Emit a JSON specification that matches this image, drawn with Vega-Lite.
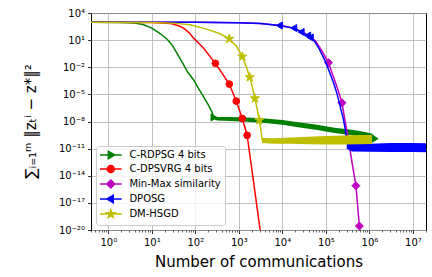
{
  "$schema": "https://vega.github.io/schema/vega-lite/v6.json",
  "width": 335,
  "height": 217,
  "autosize": {"type": "none"},
  "padding": {"left": 91, "top": 13, "right": 6, "bottom": 47},
  "background": "white",
  "config": {
    "font": "DejaVu Sans",
    "view": {"stroke": "black", "strokeWidth": 1}
  },
  "datasets": {
    "lines": [
      {"s": "C-RDPSG 4 bits", "x": 0.4, "y": 933}, {"s": "C-RDPSG 4 bits", "x": 2, "y": 912}, {"s": "C-RDPSG 4 bits", "x": 3.98, "y": 759}, {"s": "C-RDPSG 4 bits", "x": 6.31, "y": 525}, {"s": "C-RDPSG 4 bits", "x": 10, "y": 214}, {"s": "C-RDPSG 4 bits", "x": 15.85, "y": 50.1}, {"s": "C-RDPSG 4 bits", "x": 22.4, "y": 12.6}, {"s": "C-RDPSG 4 bits", "x": 28.8, "y": 3.16}, {"s": "C-RDPSG 4 bits", "x": 36.3, "y": 0.501}, {"s": "C-RDPSG 4 bits", "x": 49, "y": 0.0417}, {"s": "C-RDPSG 4 bits", "x": 66.1, "y": 0.00316}, {"s": "C-RDPSG 4 bits", "x": 91.2, "y": 3.89e-4}, {"s": "C-RDPSG 4 bits", "x": 120, "y": 3.98e-5}, {"s": "C-RDPSG 4 bits", "x": 155, "y": 5.37e-6}, {"s": "C-RDPSG 4 bits", "x": 200, "y": 6.31e-7}, {"s": "C-RDPSG 4 bits", "x": 240, "y": 1.17e-7}, {"s": "C-RDPSG 4 bits", "x": 263, "y": 3.16e-8}, {"s": "C-RDPSG 4 bits", "x": 269, "y": 2.82e-8},
      {"s": "C-DPSVRG 4 bits", "x": 0.4, "y": 933}, {"s": "C-DPSVRG 4 bits", "x": 10, "y": 912}, {"s": "C-DPSVRG 4 bits", "x": 26.3, "y": 708}, {"s": "C-DPSVRG 4 bits", "x": 39.8, "y": 417}, {"s": "C-DPSVRG 4 bits", "x": 53.7, "y": 214}, {"s": "C-DPSVRG 4 bits", "x": 72.4, "y": 63.1}, {"s": "C-DPSVRG 4 bits", "x": 91.2, "y": 16.6}, {"s": "C-DPSVRG 4 bits", "x": 120, "y": 4.47}, {"s": "C-DPSVRG 4 bits", "x": 155, "y": 1.29}, {"s": "C-DPSVRG 4 bits", "x": 219, "y": 0.151}, {"s": "C-DPSVRG 4 bits", "x": 288, "y": 0.0275}, {"s": "C-DPSVRG 4 bits", "x": 417, "y": 0.002}, {"s": "C-DPSVRG 4 bits", "x": 603, "y": 1.38e-4}, {"s": "C-DPSVRG 4 bits", "x": 871, "y": 1.82e-6}, {"s": "C-DPSVRG 4 bits", "x": 1202, "y": 2.14e-8}, {"s": "C-DPSVRG 4 bits", "x": 1549, "y": 3.02e-10}, {"s": "C-DPSVRG 4 bits", "x": 3090, "y": 1e-20},
      {"s": "Min-Max similarity", "x": 0.4, "y": 955}, {"s": "Min-Max similarity", "x": 100, "y": 933}, {"s": "Min-Max similarity", "x": 1000, "y": 851}, {"s": "Min-Max similarity", "x": 3162, "y": 692}, {"s": "Min-Max similarity", "x": 8913, "y": 417}, {"s": "Min-Max similarity", "x": 19055, "y": 214}, {"s": "Min-Max similarity", "x": 28840, "y": 79.4}, {"s": "Min-Max similarity", "x": 41687, "y": 28.2}, {"s": "Min-Max similarity", "x": 57544, "y": 7.94}, {"s": "Min-Max similarity", "x": 79433, "y": 0.794}, {"s": "Min-Max similarity", "x": 114815, "y": 0.0324}, {"s": "Min-Max similarity", "x": 138038, "y": 0.00251}, {"s": "Min-Max similarity", "x": 165959, "y": 2e-4}, {"s": "Min-Max similarity", "x": 199526, "y": 1.41e-5}, {"s": "Min-Max similarity", "x": 234423, "y": 1.17e-6}, {"s": "Min-Max similarity", "x": 281838, "y": 7.08e-9}, {"s": "Min-Max similarity", "x": 331131, "y": 8.32e-11}, {"s": "Min-Max similarity", "x": 398107, "y": 3.16e-13}, {"s": "Min-Max similarity", "x": 489779, "y": 7.94e-16}, {"s": "Min-Max similarity", "x": 588844, "y": 2.75e-20}, {"s": "Min-Max similarity", "x": 602560, "y": 1e-20},
      {"s": "DPOSG", "x": 0.4, "y": 955}, {"s": "DPOSG", "x": 100, "y": 933}, {"s": "DPOSG", "x": 1000, "y": 851}, {"s": "DPOSG", "x": 3162, "y": 692}, {"s": "DPOSG", "x": 8511, "y": 417}, {"s": "DPOSG", "x": 18197, "y": 214}, {"s": "DPOSG", "x": 26915, "y": 79.4}, {"s": "DPOSG", "x": 38019, "y": 31.6}, {"s": "DPOSG", "x": 52481, "y": 10}, {"s": "DPOSG", "x": 70795, "y": 1}, {"s": "DPOSG", "x": 97724, "y": 0.0417}, {"s": "DPOSG", "x": 123027, "y": 0.00251}, {"s": "DPOSG", "x": 151356, "y": 1.66e-4}, {"s": "DPOSG", "x": 181970, "y": 1e-5}, {"s": "DPOSG", "x": 213796, "y": 4.17e-7}, {"s": "DPOSG", "x": 251189, "y": 2e-8}, {"s": "DPOSG", "x": 281838, "y": 1.07e-9}, {"s": "DPOSG", "x": 301995, "y": 3.98e-11},
      {"s": "DM-HSGD", "x": 0.4, "y": 933}, {"s": "DM-HSGD", "x": 10, "y": 891}, {"s": "DM-HSGD", "x": 31.6, "y": 759}, {"s": "DM-HSGD", "x": 75.9, "y": 501}, {"s": "DM-HSGD", "x": 182, "y": 166}, {"s": "DM-HSGD", "x": 372, "y": 50.1}, {"s": "DM-HSGD", "x": 603, "y": 13.8}, {"s": "DM-HSGD", "x": 891, "y": 1.95}, {"s": "DM-HSGD", "x": 1202, "y": 0.151}, {"s": "DM-HSGD", "x": 1479, "y": 0.01175}, {"s": "DM-HSGD", "x": 1778, "y": 7.76e-4}, {"s": "DM-HSGD", "x": 2042, "y": 6.31e-5}, {"s": "DM-HSGD", "x": 2344, "y": 3.63e-6}, {"s": "DM-HSGD", "x": 2630, "y": 2.51e-7}, {"s": "DM-HSGD", "x": 2951, "y": 1.38e-8}, {"s": "DM-HSGD", "x": 3236, "y": 1e-9}, {"s": "DM-HSGD", "x": 3428, "y": 1e-10}
    ],
    "bands": [
      {"s": "C-RDPSG 4 bits", "x": 269, "y": 1.78e-8, "y2": 3.55e-8}, {"s": "C-RDPSG 4 bits", "x": 316, "y": 1.26e-8, "y2": 3.16e-8}, {"s": "C-RDPSG 4 bits", "x": 631, "y": 1.15e-8, "y2": 3.16e-8}, {"s": "C-RDPSG 4 bits", "x": 1585, "y": 9.12e-9, "y2": 2.75e-8}, {"s": "C-RDPSG 4 bits", "x": 3981, "y": 6.76e-9, "y2": 2.14e-8}, {"s": "C-RDPSG 4 bits", "x": 10000, "y": 4.37e-9, "y2": 1.445e-8}, {"s": "C-RDPSG 4 bits", "x": 25119, "y": 2.19e-9, "y2": 7.94e-9}, {"s": "C-RDPSG 4 bits", "x": 63096, "y": 1.12e-9, "y2": 4.47e-9}, {"s": "C-RDPSG 4 bits", "x": 158489, "y": 5.25e-10, "y2": 2.09e-9}, {"s": "C-RDPSG 4 bits", "x": 398107, "y": 3.02e-10, "y2": 1.2e-9}, {"s": "C-RDPSG 4 bits", "x": 794328, "y": 1.78e-10, "y2": 7.08e-10}, {"s": "C-RDPSG 4 bits", "x": 1122000, "y": 1.32e-10, "y2": 4.79e-10}, {"s": "C-RDPSG 4 bits", "x": 1350000, "y": 8.91e-11, "y2": 2.24e-10},
      {"s": "DPOSG", "x": 301995, "y": 1e-11, "y2": 3.98e-11}, {"s": "DPOSG", "x": 398107, "y": 4.79e-12, "y2": 3.31e-11}, {"s": "DPOSG", "x": 1000000, "y": 4.47e-12, "y2": 3.55e-11}, {"s": "DPOSG", "x": 3162000, "y": 4.17e-12, "y2": 4.17e-11}, {"s": "DPOSG", "x": 10000000, "y": 4.17e-12, "y2": 4.17e-11}, {"s": "DPOSG", "x": 20900000, "y": 3.98e-12, "y2": 3.98e-11},
      {"s": "DM-HSGD", "x": 3388, "y": 4.17e-11, "y2": 1.51e-10}, {"s": "DM-HSGD", "x": 6310, "y": 3.55e-11, "y2": 1.41e-10}, {"s": "DM-HSGD", "x": 15849, "y": 3.39e-11, "y2": 1.7e-10}, {"s": "DM-HSGD", "x": 39811, "y": 3.02e-11, "y2": 2.09e-10}, {"s": "DM-HSGD", "x": 100000, "y": 2.82e-11, "y2": 2.45e-10}, {"s": "DM-HSGD", "x": 251189, "y": 2.82e-11, "y2": 2.82e-10}, {"s": "DM-HSGD", "x": 630957, "y": 3.02e-11, "y2": 3.31e-10}, {"s": "DM-HSGD", "x": 1148000, "y": 3.31e-11, "y2": 3.31e-10}
    ],
    "marks": [
      {"s": "C-RDPSG 4 bits", "x": 269, "y": 2.82e-8}, {"s": "C-RDPSG 4 bits", "x": 1350000, "y": 1.26e-10},
      {"s": "C-DPSVRG 4 bits", "x": 288, "y": 0.0275}, {"s": "C-DPSVRG 4 bits", "x": 603, "y": 1.38e-4}, {"s": "C-DPSVRG 4 bits", "x": 871, "y": 1.82e-6}, {"s": "C-DPSVRG 4 bits", "x": 1202, "y": 2.14e-8}, {"s": "C-DPSVRG 4 bits", "x": 1549, "y": 3.02e-10},
      {"s": "Min-Max similarity", "x": 114815, "y": 0.0324}, {"s": "Min-Max similarity", "x": 234423, "y": 1.17e-6}, {"s": "Min-Max similarity", "x": 489779, "y": 7.94e-16}, {"s": "Min-Max similarity", "x": 588844, "y": 2.75e-20},
      {"s": "DPOSG", "x": 8511, "y": 417}, {"s": "DPOSG", "x": 18197, "y": 214}, {"s": "DPOSG", "x": 26915, "y": 79.4}, {"s": "DPOSG", "x": 38019, "y": 31.6}, {"s": "DPOSG", "x": 43652, "y": 19.5},
      {"s": "DM-HSGD", "x": 603, "y": 13.8}, {"s": "DM-HSGD", "x": 1202, "y": 0.151}, {"s": "DM-HSGD", "x": 1778, "y": 7.76e-4}, {"s": "DM-HSGD", "x": 2344, "y": 3.63e-6}, {"s": "DM-HSGD", "x": 2951, "y": 1.38e-8}
    ]
  },
  "encoding": {
    "x": {
      "field": "x", "type": "quantitative",
      "scale": {"type": "log", "domain": [0.4, 20000000], "nice": false},
      "axis": {
        "values": [0.4, 0.5, 0.6, 0.7, 0.8, 0.9, 1, 2, 3, 4, 5, 6, 7, 8, 9, 10, 20, 30, 40, 50, 60, 70, 80, 90, 100, 200, 300, 400, 500, 600, 700, 800, 900, 1000, 2000, 3000, 4000, 5000, 6000, 7000, 8000, 9000, 10000, 20000, 30000, 40000, 50000, 60000, 70000, 80000, 90000, 100000, 200000, 300000, 400000, 500000, 600000, 700000, 800000, 900000, 1000000, 2000000, 3000000, 4000000, 5000000, 6000000, 7000000, 8000000, 9000000, 10000000, 20000000],
        "title": "Number of communications",
        "titleFont": "DejaVu Sans", "titleFontSize": 15, "titleFontWeight": "normal", "titleColor": "black",
        "titleX": 167.5, "titleY": 36, "titleAlign": "center", "titleBaseline": "alphabetic",
        "labelExpr": "abs(log(datum.value)/LN10 - round(log(datum.value)/LN10)) < 0.001 ? '10' + substring('⁰¹²³⁴⁵⁶⁷⁸⁹', round(log(datum.value)/LN10), round(log(datum.value)/LN10) + 1) : ''",
        "labelFont": "DejaVu Sans", "labelFontSize": 10, "labelColor": "black", "labelPadding": 3.5, "labelOverlap": false, "labelFlush": false,
        "tickColor": "black",
        "tickSize": {"condition": {"test": "abs(log(datum.value)/LN10 - round(log(datum.value)/LN10)) < 0.001", "value": 3.5}, "value": 2},
        "tickWidth": {"condition": {"test": "abs(log(datum.value)/LN10 - round(log(datum.value)/LN10)) < 0.001", "value": 0.8}, "value": 0.6},
        "grid": true, "gridColor": "#b0b0b0", "gridWidth": 0.8,
        "gridOpacity": {"condition": {"test": "abs(log(datum.value)/LN10 - round(log(datum.value)/LN10)) < 0.001", "value": 1}, "value": 0},
        "domain": false
      }
    },
    "y": {
      "field": "y", "type": "quantitative",
      "scale": {"type": "log", "domain": [1e-20, 10000], "nice": false},
      "axis": {
        "values": [10000, 10, 0.01, 1e-5, 1e-8, 1e-11, 1e-14, 1e-17, 1e-20],
        "title": "∑ᵢ₌₁ᵐ ‖zₜⁱ − z*‖²",
        "titleFont": "DejaVu Sans", "titleFontSize": 15, "titleFontWeight": "normal", "titleColor": "black",
        "titleX": -61, "titleY": 108, "titleAngle": 270, "titleAlign": "center", "titleBaseline": "middle",
        "labelExpr": "'10' + (datum.value < 1 ? '⁻' : '') + (abs(round(log(datum.value)/LN10)) >= 10 ? substring('⁰¹²³⁴⁵⁶⁷⁸⁹', floor(abs(round(log(datum.value)/LN10))/10), floor(abs(round(log(datum.value)/LN10))/10) + 1) : '') + substring('⁰¹²³⁴⁵⁶⁷⁸⁹', abs(round(log(datum.value)/LN10)) % 10, abs(round(log(datum.value)/LN10)) % 10 + 1)",
        "labelFont": "DejaVu Sans", "labelFontSize": 10, "labelColor": "black", "labelPadding": 3, "labelOverlap": false, "labelFlush": false,
        "tickColor": "black", "tickSize": 3.5, "tickWidth": 0.8,
        "grid": true, "gridColor": "#b0b0b0", "gridWidth": 0.8,
        "domain": false
      }
    }
  },
  "layer": [
    {"data": {"name": "lines"}, "transform": [{"filter": "datum.s == 'C-RDPSG 4 bits'"}], "mark": {"type": "line", "color": "#008000", "strokeWidth": 1.5, "clip": true}},
    {"data": {"name": "bands"}, "transform": [{"filter": "datum.s == 'C-RDPSG 4 bits'"}], "mark": {"type": "area", "color": "#008000", "opacity": 1, "clip": true}, "encoding": {"y2": {"field": "y2"}}},
    {"data": {"name": "marks"}, "transform": [{"filter": "datum.s == 'C-RDPSG 4 bits'"}], "mark": {"type": "point", "shape": "triangle-right", "filled": true, "color": "#008000", "stroke": "#008000", "strokeWidth": 1, "size": 49, "opacity": 1}},
    {"data": {"name": "lines"}, "transform": [{"filter": "datum.s == 'C-DPSVRG 4 bits'"}], "mark": {"type": "line", "color": "#ff0000", "strokeWidth": 1.5, "clip": true}},
    {"data": {"name": "marks"}, "transform": [{"filter": "datum.s == 'C-DPSVRG 4 bits'"}], "mark": {"type": "point", "shape": "circle", "filled": true, "color": "#ff0000", "stroke": "#ff0000", "strokeWidth": 1, "size": 45, "opacity": 1}},
    {"data": {"name": "lines"}, "transform": [{"filter": "datum.s == 'Min-Max similarity'"}], "mark": {"type": "line", "color": "#bf00bf", "strokeWidth": 1.5, "clip": true}},
    {"data": {"name": "marks"}, "transform": [{"filter": "datum.s == 'Min-Max similarity'"}], "mark": {"type": "point", "shape": "diamond", "filled": true, "color": "#bf00bf", "stroke": "#bf00bf", "strokeWidth": 1, "size": 64, "opacity": 1}},
    {"data": {"name": "lines"}, "transform": [{"filter": "datum.s == 'DPOSG'"}], "mark": {"type": "line", "color": "#0000ff", "strokeWidth": 1.5, "clip": true}},
    {"data": {"name": "bands"}, "transform": [{"filter": "datum.s == 'DPOSG'"}], "mark": {"type": "area", "color": "#0000ff", "opacity": 1, "clip": true}, "encoding": {"y2": {"field": "y2"}}},
    {"data": {"name": "marks"}, "transform": [{"filter": "datum.s == 'DPOSG'"}], "mark": {"type": "point", "shape": "triangle-left", "filled": true, "color": "#0000ff", "stroke": "#0000ff", "strokeWidth": 1, "size": 49, "opacity": 1}},
    {"data": {"name": "lines"}, "transform": [{"filter": "datum.s == 'DM-HSGD'"}], "mark": {"type": "line", "color": "#bfbf00", "strokeWidth": 1.5, "clip": true}},
    {"data": {"name": "bands"}, "transform": [{"filter": "datum.s == 'DM-HSGD'"}], "mark": {"type": "area", "color": "#bfbf00", "opacity": 1, "clip": true}, "encoding": {"y2": {"field": "y2"}}},
    {"data": {"name": "marks"}, "transform": [{"filter": "datum.s == 'DM-HSGD'"}], "mark": {"type": "point", "shape": "M0,-1.2L0.27,-0.372L1.141,-0.371L0.437,0.142L0.705,0.971L0,0.46L-0.705,0.971L-0.437,0.142L-1.141,-0.371L-0.27,-0.372Z", "filled": true, "color": "#bfbf00", "stroke": "#bfbf00", "strokeWidth": 1, "size": 64, "opacity": 1}},
    {
      "data": {"name": "marks"},
      "transform": [{"filter": "false"}],
      "mark": {"type": "point", "filled": true, "opacity": 1, "strokeWidth": 1.5},
      "encoding": {
        "fill": {"field": "s", "type": "nominal",
          "scale": {"domain": ["C-RDPSG 4 bits", "C-DPSVRG 4 bits", "Min-Max similarity", "DPOSG", "DM-HSGD"], "range": ["#008000", "#ff0000", "#bf00bf", "#0000ff", "#bfbf00"]},
          "legend": {"title": null, "orient": "bottom-left", "offset": 5, "direction": "vertical", "padding": 4, "fillColor": "rgba(255,255,255,0.8)", "strokeColor": "#cccccc", "cornerRadius": 3, "labelFont": "DejaVu Sans", "labelFontSize": 10, "labelColor": "black", "labelOffset": 13.6, "symbolOffset": 5.8, "symbolSize": 49, "symbolStrokeWidth": 1.5, "symbolOpacity": 1, "rowPadding": 0, "labelLimit": 200}},
        "stroke": {"field": "s", "type": "nominal",
          "scale": {"domain": ["C-RDPSG 4 bits", "C-DPSVRG 4 bits", "Min-Max similarity", "DPOSG", "DM-HSGD"], "range": ["#008000", "#ff0000", "#bf00bf", "#0000ff", "#bfbf00"]},
          "legend": {"title": null, "orient": "bottom-left", "offset": 5, "direction": "vertical", "padding": 4, "fillColor": "rgba(255,255,255,0.8)", "strokeColor": "#cccccc", "cornerRadius": 3, "labelFont": "DejaVu Sans", "labelFontSize": 10, "labelColor": "black", "labelOffset": 13.6, "symbolOffset": 5.8, "symbolSize": 49, "symbolStrokeWidth": 1.5, "symbolOpacity": 1, "rowPadding": 0, "labelLimit": 200}},
        "shape": {"field": "s", "type": "nominal",
          "scale": {"domain": ["C-RDPSG 4 bits", "C-DPSVRG 4 bits", "Min-Max similarity", "DPOSG", "DM-HSGD"],
            "range": [
              "M-3.1,0H3.1M1.1,0L-0.7,-1.05L-0.7,1.05Z",
              "M-3.1,0H3.1M-1,0A1,1,0,1,1,1,0A1,1,0,1,1,-1,0Z",
              "M-3.1,0H3.1M0,-1.15L1.15,0L0,1.15L-1.15,0Z",
              "M-3.1,0H3.1M-1.1,0L0.7,-1.05L0.7,1.05Z",
              "M-3.1,0H3.1M0,-1.2L0.27,-0.372L1.141,-0.371L0.437,0.142L0.705,0.971L0,0.46L-0.705,0.971L-0.437,0.142L-1.141,-0.371L-0.27,-0.372Z"
            ]},
          "legend": {"title": null, "orient": "bottom-left", "offset": 5, "direction": "vertical", "padding": 4, "fillColor": "rgba(255,255,255,0.8)", "strokeColor": "#cccccc", "cornerRadius": 3, "labelFont": "DejaVu Sans", "labelFontSize": 10, "labelColor": "black", "labelOffset": 13.6, "symbolOffset": 5.8, "symbolSize": 49, "symbolStrokeWidth": 1.5, "symbolOpacity": 1, "rowPadding": 0, "labelLimit": 200}}
      }
    }
  ]
}
